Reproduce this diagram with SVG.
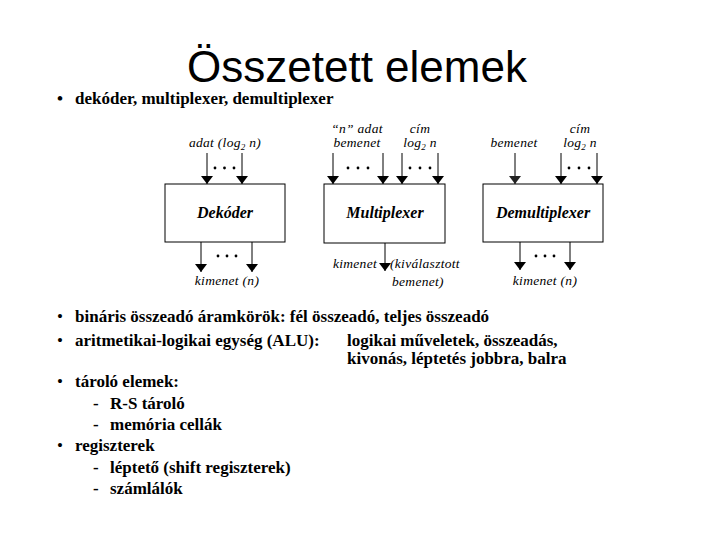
<svg xmlns="http://www.w3.org/2000/svg" width="720" height="540" viewBox="0 0 720 540">
<style>
.title{font-family:"Liberation Sans",Arial,sans-serif;font-size:44px;fill:#000}
.body{font-family:"Liberation Serif","Times New Roman",Times,serif;font-size:17px;font-weight:bold;fill:#000}
.lbl{font-family:"Liberation Serif","Times New Roman",Times,serif;font-size:13.5px;letter-spacing:0.3px;font-style:italic;fill:#000}
.box{fill:#fff;stroke:#000;stroke-width:1}
.name{font-family:"Liberation Serif","Times New Roman",Times,serif;font-size:16px;font-style:italic;font-weight:bold;fill:#000;text-anchor:middle}
.ln{stroke:#000;stroke-width:1;fill:none}
.dot{fill:#000}
</style>
<defs>
<marker id="ah" viewBox="0 0 8 12" refX="8" refY="6" markerWidth="8" markerHeight="12" markerUnits="userSpaceOnUse" orient="auto">
<path d="M0,0 L8,6 L0,12 Z" fill="#000"/>
</marker>
<marker id="ahg" viewBox="0 0 8 12" refX="8" refY="6" markerWidth="8" markerHeight="12" markerUnits="userSpaceOnUse" orient="auto">
<path d="M0,0 L8,6 L0,12 Z" fill="#222"/>
</marker>
</defs>
<rect width="720" height="540" fill="#fff"/>
<text class="title" x="357" y="82" text-anchor="middle">Összetett elemek</text>
<text class="body" x="57" y="104" font-weight="normal">•</text>
<text class="body" x="75" y="104">dekóder, multiplexer, demultiplexer</text>

<g id="dekoder">
<rect class="box" x="165" y="184" width="120" height="58"/>
<text class="name" x="225" y="218">Dekóder</text>
<text class="lbl" x="225" y="147" text-anchor="middle">adat (log<tspan font-size="9" dy="3">2</tspan><tspan dy="-3"> n)</tspan></text>
<text class="lbl" x="227" y="285" text-anchor="middle">kimenet (n)</text>
</g>
<g id="multiplexer">
<rect class="box" x="324" y="184" width="121" height="59"/>
<text class="name" x="385" y="218">Multiplexer</text>
<text class="lbl" x="357" y="133" text-anchor="middle">“n” adat</text>
<text class="lbl" x="357" y="147" text-anchor="middle">bemenet</text>
<text class="lbl" x="420" y="133" text-anchor="middle">cím</text>
<text class="lbl" x="420" y="147" text-anchor="middle">log<tspan font-size="9" dy="3">2</tspan><tspan dy="-3"> n</tspan></text>
<text class="lbl" x="377" y="268" text-anchor="end">kimenet</text>
<text class="lbl" x="390" y="268">(kiválasztott</text>
<text class="lbl" x="392" y="286">bemenet)</text>
</g>
<g id="demultiplexer">
<rect class="box" x="483" y="184" width="120" height="58"/>
<text class="name" x="543" y="218">Demultiplexer</text>
<text class="lbl" x="514" y="147" text-anchor="middle">bemenet</text>
<text class="lbl" x="580" y="133" text-anchor="middle">cím</text>
<text class="lbl" x="580" y="147" text-anchor="middle">log<tspan font-size="9" dy="3">2</tspan><tspan dy="-3"> n</tspan></text>
<text class="lbl" x="545" y="285" text-anchor="middle">kimenet (n)</text>
</g>

<g id="connectors">
<line class="ln" x1="207" y1="153" x2="207" y2="184" marker-end="url(#ah)"/>
<line class="ln" x1="242" y1="153" x2="242" y2="184" marker-end="url(#ah)"/>
<line class="ln" x1="201" y1="242" x2="201" y2="272" marker-end="url(#ah)"/>
<line class="ln" x1="252" y1="242" x2="252" y2="272" marker-end="url(#ah)"/>
<line class="ln" x1="333" y1="153" x2="333" y2="184" marker-end="url(#ah)"/>
<line class="ln" x1="383" y1="153" x2="383" y2="184" marker-end="url(#ah)"/>
<line class="ln" x1="402" y1="153" x2="402" y2="184" marker-end="url(#ah)"/>
<line class="ln" x1="438" y1="153" x2="438" y2="184" marker-end="url(#ah)"/>
<line class="ln" x1="385" y1="243" x2="385" y2="271" marker-end="url(#ah)"/>
<line class="ln" x1="515" y1="153" x2="515" y2="184" stroke="#444" marker-end="url(#ahg)"/>
<line class="ln" x1="561" y1="153" x2="561" y2="184" marker-end="url(#ah)"/>
<line class="ln" x1="597" y1="153" x2="597" y2="184" marker-end="url(#ah)"/>
<line class="ln" x1="520" y1="242" x2="520" y2="270" marker-end="url(#ah)"/>
<line class="ln" x1="570" y1="242" x2="570" y2="270" marker-end="url(#ah)"/>
<g class="dot">
<circle cx="215" cy="168" r="1.4"/><circle cx="224.5" cy="168" r="1.4"/><circle cx="234" cy="168" r="1.4"/>
<circle cx="218" cy="256" r="1.4"/><circle cx="227" cy="256" r="1.4"/><circle cx="236" cy="256" r="1.4"/>
<circle cx="348" cy="168" r="1.4"/><circle cx="358" cy="168" r="1.4"/><circle cx="368" cy="168" r="1.4"/>
<circle cx="410" cy="168" r="1.4"/><circle cx="420" cy="168" r="1.4"/><circle cx="430" cy="168" r="1.4"/>
<circle cx="569" cy="168" r="1.4"/><circle cx="579" cy="168" r="1.4"/><circle cx="589" cy="168" r="1.4"/>
<circle cx="536" cy="256" r="1.4"/><circle cx="545" cy="256" r="1.4"/><circle cx="554" cy="256" r="1.4"/>
</g>
</g>

<g class="body">
<text x="57" y="322" font-weight="normal">•</text><text x="75" y="322">bináris összeadó áramkörök: fél összeadó, teljes összeadó</text>
<text x="57" y="346" font-weight="normal">•</text><text x="75" y="346">aritmetikai-logikai egység (ALU):</text>
<text x="347" y="346">logikai műveletek, összeadás,</text>
<text x="347" y="364">kivonás, léptetés jobbra, balra</text>
<text x="57" y="387" font-weight="normal">•</text><text x="75" y="387">tároló elemek:</text>
<text x="93" y="409">-</text><text x="110" y="409">R-S tároló</text>
<text x="93" y="430">-</text><text x="110" y="430">memória cellák</text>
<text x="57" y="451" font-weight="normal">•</text><text x="75" y="451">regiszterek</text>
<text x="93" y="473">-</text><text x="110" y="473">léptető (shift regiszterek)</text>
<text x="93" y="494">-</text><text x="110" y="494">számlálók</text>
</g>
</svg>
